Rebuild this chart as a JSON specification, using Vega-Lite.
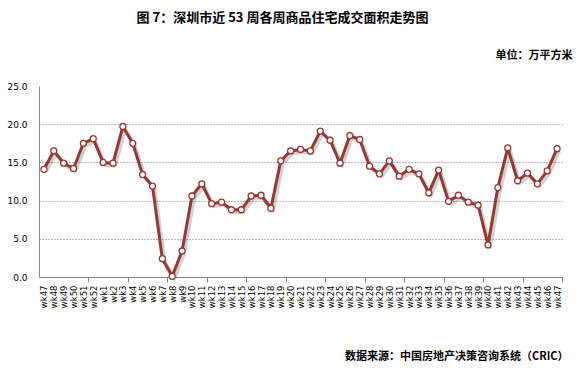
{
  "$schema": "https://vega.github.io/schema/vega-lite/v6.json",
  "autosize": "none",
  "width": 523,
  "height": 191,
  "padding": {"left": 39, "top": 86, "right": 15, "bottom": 93},
  "background": "white",
  "config": {"view": {"stroke": null}},
  "title": {
    "text": "图 7：深圳市近 53 周各周商品住宅成交面积走势图",
    "anchor": "middle",
    "frame": "group",
    "dx": -18,
    "offset": 24,
    "font": "Noto Sans CJK SC",
    "fontSize": 13,
    "fontWeight": "bold",
    "color": "#000000"
  },
  "data": {
    "values": [
      {"week": "1-wk47", "area": 14.1},
      {"week": "1-wk48", "area": 16.5},
      {"week": "1-wk49", "area": 14.9},
      {"week": "1-wk50", "area": 14.2},
      {"week": "1-wk51", "area": 17.5},
      {"week": "1-wk52", "area": 18.1},
      {"week": "2-wk1", "area": 15.0},
      {"week": "2-wk2", "area": 14.9},
      {"week": "2-wk3", "area": 19.7},
      {"week": "2-wk4", "area": 17.5},
      {"week": "2-wk5", "area": 13.4},
      {"week": "2-wk6", "area": 11.9},
      {"week": "2-wk7", "area": 2.4},
      {"week": "2-wk8", "area": 0.1},
      {"week": "2-wk9", "area": 3.4},
      {"week": "2-wk10", "area": 10.6},
      {"week": "2-wk11", "area": 12.2},
      {"week": "2-wk12", "area": 9.6},
      {"week": "2-wk13", "area": 9.8},
      {"week": "2-wk14", "area": 8.8},
      {"week": "2-wk15", "area": 8.8},
      {"week": "2-wk16", "area": 10.6},
      {"week": "2-wk17", "area": 10.7},
      {"week": "2-wk18", "area": 9.0},
      {"week": "2-wk19", "area": 15.2},
      {"week": "2-wk20", "area": 16.5},
      {"week": "2-wk21", "area": 16.7},
      {"week": "2-wk22", "area": 16.5},
      {"week": "2-wk23", "area": 19.1},
      {"week": "2-wk24", "area": 17.9},
      {"week": "2-wk25", "area": 14.9},
      {"week": "2-wk26", "area": 18.5},
      {"week": "2-wk27", "area": 18.0},
      {"week": "2-wk28", "area": 14.5},
      {"week": "2-wk29", "area": 13.5},
      {"week": "2-wk30", "area": 15.2},
      {"week": "2-wk31", "area": 13.2},
      {"week": "2-wk32", "area": 14.1},
      {"week": "2-wk33", "area": 13.5},
      {"week": "2-wk34", "area": 11.0},
      {"week": "2-wk35", "area": 14.0},
      {"week": "2-wk36", "area": 9.9},
      {"week": "2-wk37", "area": 10.7},
      {"week": "2-wk38", "area": 9.8},
      {"week": "2-wk39", "area": 9.4},
      {"week": "2-wk40", "area": 4.2},
      {"week": "2-wk41", "area": 11.7},
      {"week": "2-wk42", "area": 16.9},
      {"week": "2-wk43", "area": 12.6},
      {"week": "2-wk44", "area": 13.6},
      {"week": "2-wk45", "area": 12.2},
      {"week": "2-wk46", "area": 13.9},
      {"week": "2-wk47", "area": 16.8}
    ]
  },
  "encoding": {
    "x": {
      "field": "week",
      "type": "ordinal",
      "sort": null,
      "scale": {"type": "band", "paddingInner": 0, "paddingOuter": 0},
      "axis": {
        "title": "数据来源：中国房地产决策咨询系统（CRIC）",
        "titleFont": "Noto Sans CJK SC",
        "titleFontSize": 11,
        "titleFontWeight": "bold",
        "titleColor": "#000000",
        "titleAlign": "right",
        "titleAnchor": null,
        "titleBaseline": "middle",
        "titleX": 529,
        "titleY": 79,
        "labelExpr": "split(datum.value, '-')[1]",
        "labelAngle": 270,
        "labelAlign": "right",
        "labelBaseline": "middle",
        "labelFont": "DejaVu Sans",
        "labelFontSize": 8.5,
        "labelColor": "#000000",
        "labelPadding": 3,
        "labelOverlap": false,
        "labelBound": false,
        "labelFlush": false,
        "tickBand": "extent",
        "ticks": true,
        "tickSize": 5,
        "tickColor": "#868686",
        "tickWidth": 1,
        "tickOpacity": {
          "condition": {
            "test": "indexof(['1-wk51','2-wk3','2-wk7','2-wk11','2-wk15','2-wk19','2-wk23','2-wk27','2-wk31','2-wk35','2-wk39','2-wk43','2-wk47'], datum.value) >= 0",
            "value": 1
          },
          "value": 0
        },
        "domainColor": "#868686",
        "domainWidth": 1,
        "grid": false
      }
    },
    "y": {
      "field": "area",
      "type": "quantitative",
      "scale": {"domain": [0, 25], "nice": false, "zero": true},
      "axis": {
        "title": "单位：万平方米",
        "titleFont": "Noto Sans CJK SC",
        "titleFontSize": 11,
        "titleFontWeight": "bold",
        "titleColor": "#000000",
        "titleAngle": 0,
        "titleAlign": "right",
        "titleAnchor": null,
        "titleBaseline": "middle",
        "titleX": 533,
        "titleY": -31,
        "values": [0, 5, 10, 15, 20, 25],
        "format": ".1f",
        "labelFont": "DejaVu Sans",
        "labelFontSize": 9,
        "labelColor": "#000000",
        "labelPadding": 12,
        "ticks": false,
        "domainColor": "#868686",
        "domainWidth": 1,
        "grid": true,
        "gridColor": "#6e6e6e",
        "gridDash": [1, 2],
        "gridWidth": 1,
        "gridOpacity": {
          "condition": {"test": "datum.value > 0 && datum.value < 25", "value": 1},
          "value": 0
        }
      }
    }
  },
  "layer": [
    {
      "mark": {"type": "line", "color": "#000000", "opacity": 0.18, "strokeWidth": 4, "xOffset": 2, "yOffset": 2.5, "strokeJoin": "round"}
    },
    {
      "mark": {"type": "line", "color": "#953735", "strokeWidth": 3, "strokeJoin": "round"}
    },
    {
      "mark": {"type": "point", "shape": "circle", "filled": true, "fill": "#ffffff", "stroke": "#953735", "strokeWidth": 1.3, "size": 36, "opacity": 1}
    }
  ]
}
